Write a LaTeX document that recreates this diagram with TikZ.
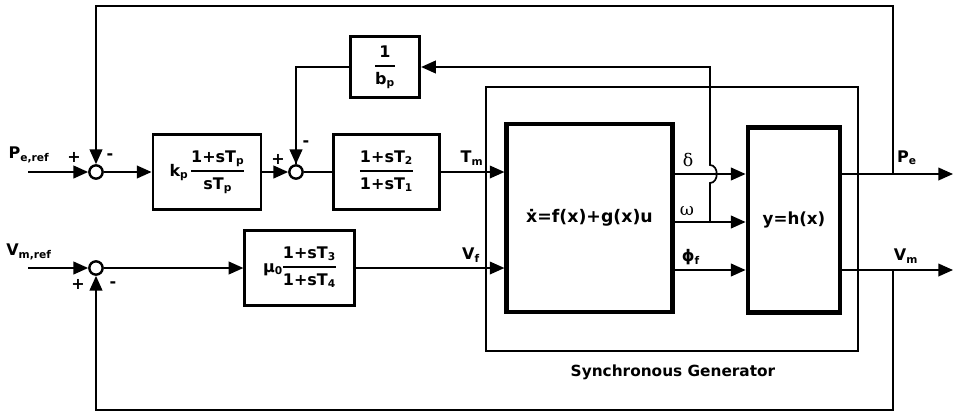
\documentclass[tikz,border=0pt]{standalone}
\usepackage{fontspec}
\setmainfont{DejaVu Sans}
\newfontfamily\grkfont{DejaVu Serif}
\usetikzlibrary{arrows.meta}

\newcommand{\bfrac}[2]{$\vcenter{\hbox{\begin{tabular}{@{}c@{}}#1\\\noalign{\vskip2pt\hrule height 1.4pt\vskip3pt}#2\end{tabular}}}$}

\tikzset{
  sig/.style={line width=1.3pt},
  sigarr/.style={sig,-{Triangle[length=11pt,width=9.5pt]}},
  sumnode/.style={circle,draw,line width=1.8pt,minimum size=10pt,inner sep=0pt},
  blk/.style={draw,line width=2.2pt,inner sep=0pt,align=center},
  bigblk/.style={draw,line width=3.6pt,inner sep=0pt},
  lbl/.style={inner sep=0pt},
}

\begin{document}
\begin{tikzpicture}[x=0.75pt,y=-0.75pt,font=\fontsize{12}{14}\selectfont\bfseries]
\useasboundingbox (0,0) rectangle (953,415);
%发电机外框
\node[draw,sig,minimum width=279pt,minimum height=198pt,inner sep=0pt] (sg) at (672,219) {};
\node[lbl,font=\fontsize{11.5}{13}\selectfont\bfseries] (sgname) at (673,372) {Synchronous Generator};
%方块
\node[blk,minimum width=81pt,minimum height=56pt] (kp) at (207,172)
  {k\textsubscript{p}\,\bfrac{1+sT\textsubscript{p}}{sT\textsubscript{p}}};
\node[blk,minimum width=80pt,minimum height=56pt] (lead) at (386.5,172)
  {\bfrac{1+sT\textsubscript{2}}{1+sT\textsubscript{1}}};
\node[blk,minimum width=52pt,minimum height=46pt] (bp) at (385,67)
  {\bfrac{1}{b\textsubscript{p}}};
\node[blk,minimum width=82pt,minimum height=56pt] (mu) at (299.5,268)
  {μ\textsubscript{0}\bfrac{1+sT\textsubscript{3}}{1+sT\textsubscript{4}}};
\node[bigblk,minimum width=124pt,minimum height=141pt,font=\fontsize{13}{15}\selectfont\bfseries] (f) at (589.5,218) {ẋ=f(x)+g(x)u};
\node[bigblk,minimum width=69pt,minimum height=139pt,font=\fontsize{12.5}{15}\selectfont\bfseries] (h) at (794,220) {y=h(x)};
%求和点
\node[sumnode] (sum1) at (96,172) {};
\node[sumnode] (sum2) at (296,172) {};
\node[sumnode] (sum3) at (96,268) {};
%符号
\node[lbl] (s1p) at (74,157) {+};
\node[lbl] (s1m) at (110,157) {-};
\node[lbl] (s2p) at (278,159) {+};
\node[lbl] (s2m) at (306,144) {-};
\node[lbl] (s3p) at (78,284) {+};
\node[lbl] (s3m) at (113,285) {-};
%坐标
\coordinate (pref) at (28,172);
\coordinate (vref) at (28,268);
\coordinate (dlt) at (0,174);
\coordinate (omg) at (0,222);
\coordinate (phf) at (0,270);
\coordinate (wtap) at (710,222);
\coordinate (ptap) at (893,174);
\coordinate (vtap) at (893,270);
\coordinate (pout) at (953,174);
\coordinate (vout) at (953,270);
\coordinate (top) at (0,6);
\coordinate (bot) at (0,410);
%输入
\draw[sigarr] (pref) -- (sum1);
\draw[sigarr] (vref) -- (sum3);
\node[lbl] (preflbl) at (29,155) {P\textsubscript{e,ref}};
\node[lbl] (vreflbl) at (29,252) {V\textsubscript{m,ref}};
%前向通道
\draw[sigarr] (sum1) -- (kp);
\draw[sigarr] (kp) -- (sum2);
\draw[sig] (sum2) -- (lead);
\draw[sigarr] (lead.east) -- (lead.east -| f.west);
\node[lbl] (tm) at (472,158) {T\textsubscript{m}};
\draw[sigarr] (sum3) -- (mu);
\draw[sigarr] (mu.east) -- (mu.east -| f.west);
\node[lbl] (vf) at (471,255) {V\textsubscript{f}};
%状态
\draw[sigarr] (f.east |- dlt) -- (h.west |- dlt);
\draw[sigarr] (f.east |- omg) -- (h.west |- omg);
\draw[sigarr] (f.east |- phf) -- (h.west |- phf);
\node[lbl,font=\fontsize{13}{15}\selectfont\grkfont] (dlbl) at (688,160) {δ};
\node[lbl,font=\fontsize{13}{15}\selectfont\grkfont] (wlbl) at (687,211) {ω};
\node[lbl] (plbl) at (691,257) {ϕ\textsubscript{f}};
%输出
\draw[sigarr] (h.east |- dlt) -- (pout);
\draw[sigarr] (h.east |- phf) -- (vout);
\node[lbl] (pelbl) at (907,158) {P\textsubscript{e}};
\node[lbl] (vmlbl) at (906,256) {V\textsubscript{m}};
%反馈
\draw[sigarr] (wtap) -- (710,183) .. controls (719,183) and (719,165) .. (710,165)
  -- (wtap |- bp.east) -- (bp.east);
\draw[sig] (bp.west) -| (sum2.north);
\draw[sigarr] (sum2 |- bp.west) -- (sum2.north);
\draw[sigarr] (ptap) -- (ptap |- top) -| (sum1.north);
\draw[sigarr] (vtap) -- (vtap |- bot) -| (sum3.south);
\end{tikzpicture}
\end{document}
